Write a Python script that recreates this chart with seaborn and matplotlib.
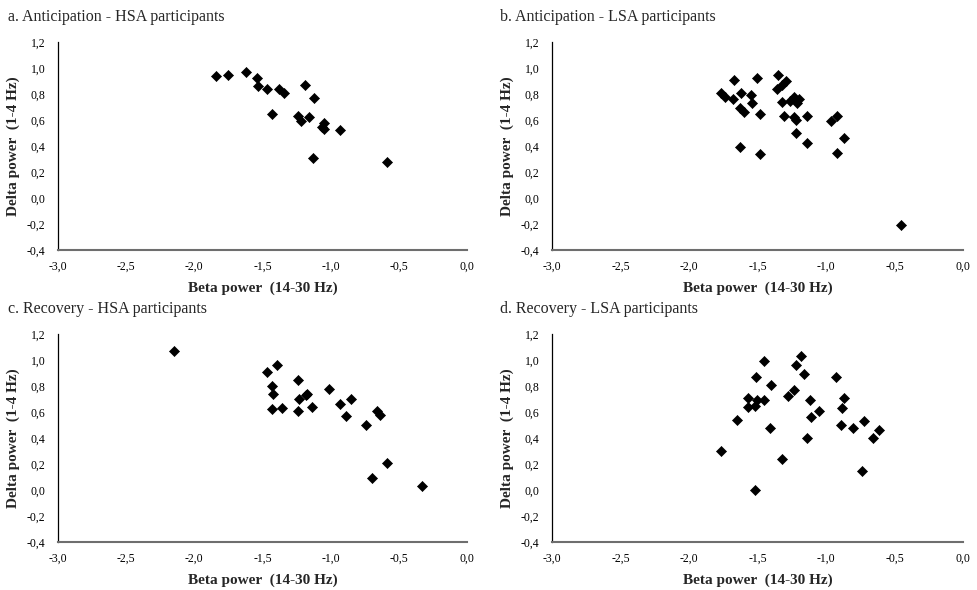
import matplotlib
matplotlib.use("Agg")
import matplotlib.pyplot as plt
from matplotlib.ticker import FuncFormatter, MultipleLocator
import seaborn as sns
import pandas as pd

# ---- data ----
titles = ["a. Anticipation - HSA participants", "b. Anticipation - LSA participants",
          "c. Recovery - HSA participants", "d. Recovery - LSA participants"]

a_beta = [-1.84, -1.75, -1.62, -1.54, -1.53, -1.47, -1.38, -1.34, -1.19, -1.12,
          -1.43, -1.24, -1.22, -1.16, -1.05, -1.06, -1.05, -0.93, -1.13, -0.59]
a_delta = [0.94, 0.95, 0.97, 0.92, 0.86, 0.84, 0.84, 0.81, 0.87, 0.77,
           0.65, 0.63, 0.59, 0.62, 0.58, 0.55, 0.53, 0.52, 0.31, 0.28]

b_beta = [-1.77, -1.74, -1.68, -1.67, -1.62, -1.55, -1.54, -1.63, -1.60, -1.50,
          -1.48, -1.35, -1.29, -1.32, -1.36, -1.32, -1.26, -1.23, -1.20, -1.21,
          -1.31, -1.23, -1.22, -1.14, -1.22, -0.96, -0.92, -0.87, -1.63, -1.48,
          -1.14, -0.92, -0.45]
b_delta = [0.81, 0.78, 0.76, 0.91, 0.81, 0.79, 0.73, 0.69, 0.66, 0.92,
           0.65, 0.95, 0.90, 0.87, 0.84, 0.74, 0.75, 0.78, 0.76, 0.73,
           0.63, 0.62, 0.60, 0.63, 0.50, 0.59, 0.63, 0.46, 0.39, 0.34,
           0.42, 0.35, -0.21]

c_beta = [-2.15, -1.47, -1.39, -1.43, -1.42, -1.43, -1.36, -1.24, -1.23, -1.24,
          -1.18, -1.17, -1.14, -1.01, -0.93, -0.85, -0.89, -0.66, -0.64, -0.74,
          -0.59, -0.70, -0.33]
c_delta = [1.07, 0.91, 0.96, 0.80, 0.74, 0.62, 0.63, 0.85, 0.70, 0.61,
           0.73, 0.74, 0.64, 0.78, 0.66, 0.70, 0.57, 0.61, 0.58, 0.50,
           0.21, 0.09, 0.03]

d_beta = [-1.77, -1.65, -1.57, -1.57, -1.52, -1.50, -1.45, -1.51, -1.45, -1.40,
          -1.41, -1.52, -1.32, -1.28, -1.23, -1.22, -1.18, -1.16, -1.12, -1.05,
          -1.11, -1.14, -0.93, -0.87, -0.88, -0.89, -0.80, -0.72, -0.61, -0.66,
          -0.74]
d_delta = [0.30, 0.54, 0.71, 0.64, 0.65, 0.69, 0.69, 0.87, 0.99, 0.81,
           0.48, 0.00, 0.24, 0.72, 0.77, 0.96, 1.03, 0.89, 0.69, 0.61,
           0.56, 0.40, 0.87, 0.71, 0.63, 0.50, 0.48, 0.53, 0.46, 0.40,
           0.15]

x_label = "Beta power  (14-30 Hz)"
y_label = "Delta power  (1-4 Hz)"

panels = [(a_beta, a_delta), (b_beta, b_delta), (c_beta, c_delta), (d_beta, d_delta)]

# ---- style ----
sns.set_style("white")
plt.rcParams['font.family'] = ['Liberation Serif', 'DejaVu Serif']

W, H = 978, 590
fig = plt.figure(figsize=(W / 100, H / 100), dpi=100)

# axes rectangles in pixel coords: left, top, right, bottom
rects = [(58, 42, 467, 250), (552, 42, 963, 250),
         (58, 334, 467, 542), (552, 334, 963, 542)]
title_pos = [(8, 17), (500, 17), (8, 309), (500, 309)]

fmt = FuncFormatter(lambda v, p: f"{v:.1f}".replace(".", ",").replace("−", "-"))

for (xs, ys), (l, t, r, b), title, (tx, ty) in zip(panels, rects, titles, title_pos):
    ax = fig.add_axes([l / W, 1 - b / H, (r - l) / W, (b - t) / H])
    df = pd.DataFrame({"beta": xs, "delta": ys})
    sns.scatterplot(data=df, x="beta", y="delta", marker="D", s=26,
                    color="black", edgecolor="black", linewidth=0.5, ax=ax)
    ax.set_xlim(-3.0, 0.0)
    ax.set_ylim(-0.4, 1.2)
    ax.xaxis.set_major_locator(MultipleLocator(0.5))
    ax.yaxis.set_major_locator(MultipleLocator(0.2))
    ax.xaxis.set_major_formatter(fmt)
    ax.yaxis.set_major_formatter(fmt)
    ax.tick_params(axis="both", length=0, labelsize=8.5, colors="black")
    ax.tick_params(axis="x", pad=8)
    ax.tick_params(axis="y", pad=9)
    for s in ("top", "right"):
        ax.spines[s].set_visible(False)
    ax.spines["left"].set_color("#000000")
    ax.spines["left"].set_linewidth(0.9)
    ax.spines["bottom"].set_color("#6e6e6e")
    ax.spines["bottom"].set_linewidth(1.5)
    ax.set_xlabel(x_label, fontsize=11, fontweight="bold", labelpad=6)
    ax.set_ylabel(y_label, fontsize=11, fontweight="bold", labelpad=5)
    fig.text(tx / W, 1 - ty / H, title, fontsize=11.5, ha="left", va="center")

fig.savefig("out.png", dpi=100)
